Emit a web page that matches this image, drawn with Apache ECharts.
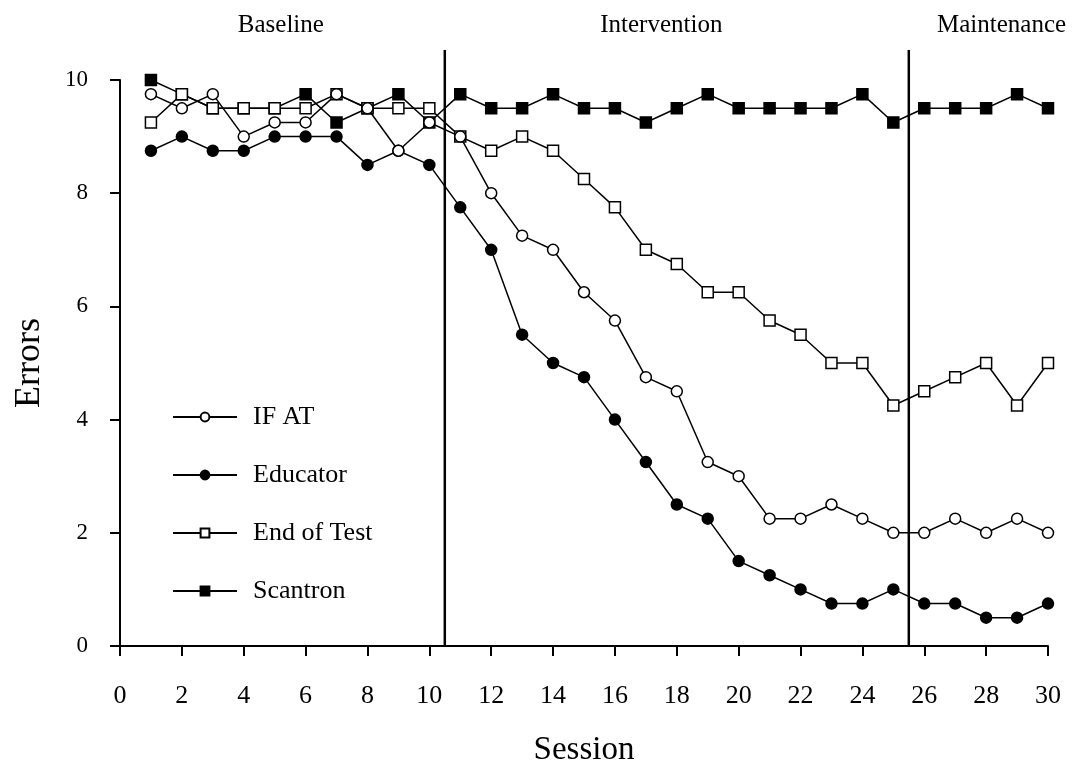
<!DOCTYPE html>
<html><head><meta charset="utf-8">
<script src="https://cdn.jsdelivr.net/npm/echarts@6/dist/echarts.min.js"></script>
<style>html,body{margin:0;padding:0;background:#fff}#c{width:1090px;height:766px}</style>
</head><body><div id="c"></div>
<script>
const sessions = [1,2,3,4,5,6,7,8,9,10,11,12,13,14,15,16,17,18,19,20,21,22,23,24,25,26,27,28,29,30];
const ifat      = [9.75,9.5,9.75,9.0,9.25,9.25,9.75,9.5,8.75,9.25,9.0,8.0,7.25,7.0,6.25,5.75,4.75,4.5,3.25,3.0,2.25,2.25,2.5,2.25,2.0,2.0,2.25,2.0,2.25,2.0];
const educator  = [8.75,9.0,8.75,8.75,9.0,9.0,9.0,8.5,8.75,8.5,7.75,7.0,5.5,5.0,4.75,4.0,3.25,2.5,2.25,1.5,1.25,1.0,0.75,0.75,1.0,0.75,0.75,0.5,0.5,0.75];
const endOfTest = [9.25,9.75,9.5,9.5,9.5,9.5,9.75,9.5,9.5,9.5,9.0,8.75,9.0,8.75,8.25,7.75,7.0,6.75,6.25,6.25,5.75,5.5,5.0,5.0,4.25,4.5,4.75,5.0,4.25,5.0];
const scantron  = [10,9.75,9.5,9.5,9.5,9.75,9.25,9.5,9.75,9.25,9.75,9.5,9.5,9.75,9.5,9.5,9.25,9.5,9.75,9.5,9.5,9.5,9.5,9.75,9.25,9.5,9.5,9.5,9.75,9.5];
const phaseChanges = [10.5, 25.5];
const phaseNames = ['Baseline','Intervention','Maintenance'];
const phaseLabelAt = [5.2, 17.5, 28.5];
const seriesNames = ['IF AT','Educator','End of Test','Scantron'];
const xTicks = {min:0, max:30, interval:2};
const yTicks = {min:0, max:10, interval:2};
const phaseLineTop = 10.53;

const FONT = '"Liberation Serif", "DejaVu Serif", serif';
const pair = arr => sessions.map((s,i)=>[s, arr[i]]);
const base = {type:'line', symbolSize:11, lineStyle:{color:'#000', width:1.5}, z:3};
const chart = echarts.init(document.getElementById('c'), null, {renderer:'canvas'});
chart.setOption({
  animation:false,
  backgroundColor:'#fff',
  grid:{left:120, right:42, top:80, bottom:120, containLabel:false, outerBoundsMode:'none'},
  xAxis:{type:'value', min:xTicks.min, max:xTicks.max, interval:xTicks.interval,
    name:'Session', nameLocation:'middle', nameGap:88,
    nameTextStyle:{fontFamily:FONT, fontSize:33, color:'#000'},
    axisLine:{lineStyle:{color:'#000', width:2}},
    axisTick:{show:true, length:10, lineStyle:{color:'#000', width:2}},
    axisLabel:{fontFamily:FONT, fontSize:26, color:'#000', margin:37},
    splitLine:{show:false}},
  yAxis:{type:'value', min:yTicks.min, max:yTicks.max, interval:yTicks.interval,
    name:'Errors', nameLocation:'middle', nameGap:72,
    nameTextStyle:{fontFamily:FONT, fontSize:36, color:'#000'},
    axisLine:{show:true, lineStyle:{color:'#000', width:2}},
    axisTick:{show:true, length:10, lineStyle:{color:'#000', width:2}},
    axisLabel:{fontFamily:FONT, fontSize:23, color:'#000', margin:32},
    splitLine:{show:false}},
  legend:{orient:'vertical', left:167, top:399, itemWidth:64, itemHeight:11, itemGap:32,
    data:seriesNames,
    textStyle:{fontFamily:FONT, fontSize:26, color:'#000', padding:[0,0,0,11]}},
  series:[
    Object.assign({}, base, {name:'Scantron', data:pair(scantron), symbol:'rect', itemStyle:{color:'#000', borderColor:'#000', borderWidth:1.5}}),
    Object.assign({}, base, {name:'Educator', data:pair(educator), symbol:'circle', itemStyle:{color:'#000', borderColor:'#000', borderWidth:1.5}}),
    Object.assign({}, base, {name:'End of Test', data:pair(endOfTest), symbol:'rect', itemStyle:{color:'#fff', borderColor:'#000', borderWidth:1.5}}),
    Object.assign({}, base, {name:'IF AT', data:pair(ifat), symbol:'circle', itemStyle:{color:'#fff', borderColor:'#000', borderWidth:1.5}})
  ]
});
const px = v => chart.convertToPixel({xAxisIndex:0}, v);
const py = v => chart.convertToPixel({yAxisIndex:0}, v);
const gfx = [];
phaseChanges.forEach(x => {
  gfx.push({type:'line', silent:true, z:10,
    shape:{x1:px(x), y1:py(phaseLineTop), x2:px(x), y2:py(0)},
    style:{stroke:'#000', lineWidth:2.5}});
});
phaseNames.forEach((n,i) => {
  gfx.push({type:'text', silent:true, x:px(phaseLabelAt[i]), y:25,
    style:{text:n, font:'25px "Liberation Serif", serif', fill:'#000', align:'center', verticalAlign:'middle'}});
});
chart.setOption({graphic:gfx});
</script></body></html>
